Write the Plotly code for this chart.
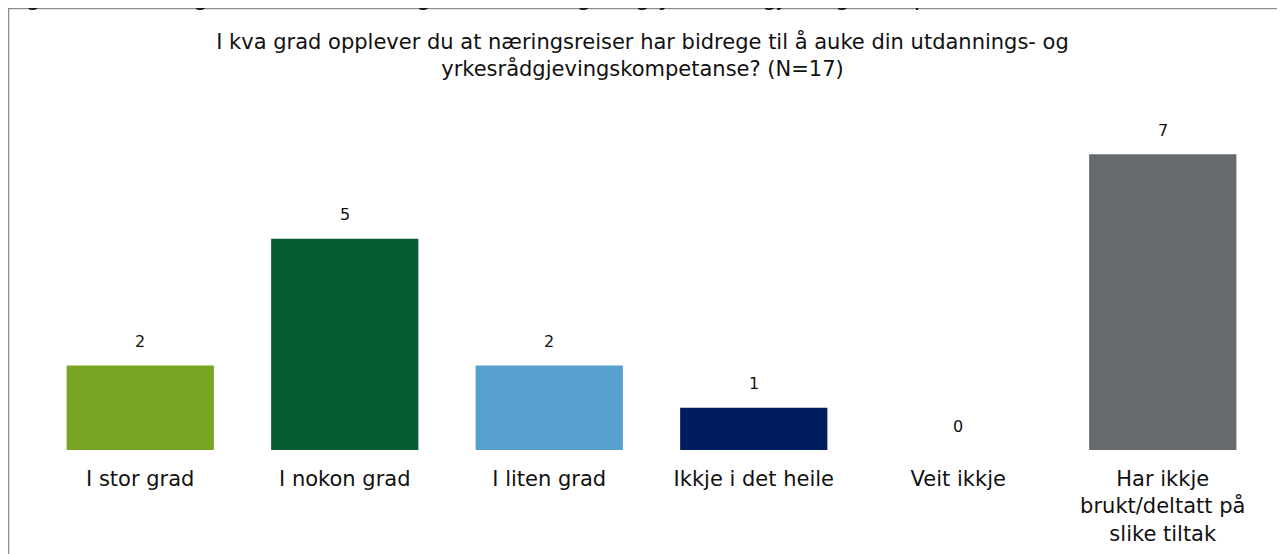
import plotly.graph_objects as go

# 데이터
categories = ['I stor grad', 'I nokon grad', 'I liten grad', 'Ikkje i det heile',
              'Veit ikkje', 'Har ikkje<br>brukt/deltatt på<br>slike tiltak']
values = [2, 5, 2, 1, 0, 7]
bar_colors = ['#78A622', '#055C33', '#56A0CD', '#001E5F', '#FFFFFF', '#676A6D']

FONT = 'DejaVu Sans'
OFF = 8  # 페이지 body 여백
W, H = 1285, 554
ML, MR, MT, MB = 30, 27.75, 104, 112
PW, PH = W - ML - MR, H - MT - MB


# 참조 이미지 픽셀 -> paper 좌표
def px_x(p):
    return (p - OFF - ML) / PW


def px_y(p):
    return (H - MB - (p - OFF)) / PH


fig = go.Figure(go.Bar(
    x=categories,
    y=values,
    marker=dict(color=bar_colors, line=dict(width=0)),
    hoverinfo='skip'
))

# 값 라벨
for c, v in zip(categories, values):
    fig.add_annotation(x=c, y=v, text=str(v), showarrow=False,
                       yshift=24, font=dict(family=FONT, size=16, color='#111111'))

# 위쪽에 잘린 캡션
fig.add_annotation(
    text='Figur 11: Næringsreiser som bidrag til utdannings- og yrkesrådgjevingskompetanse',
    xref='paper', yref='paper', x=px_x(5), y=px_y(-3),
    xanchor='left', yanchor='middle', showarrow=False,
    font=dict(family=FONT, size=24, color='#111111')
)

# 테두리
fig.add_shape(type='rect', xref='paper', yref='paper',
              x0=px_x(8.5), x1=px_x(1300), y0=px_y(600), y1=px_y(8.5),
              line=dict(color='#8c8c8c', width=1.5), fillcolor='rgba(0,0,0,0)')

fig.update_layout(
    width=W, height=H,
    margin=dict(l=ML, r=MR, t=MT, b=MB, autoexpand=False),
    paper_bgcolor='white', plot_bgcolor='white',
    bargap=0.28,
    showlegend=False,
    font=dict(family=FONT, color='#111111'),
    title=dict(
        text='I kva grad opplever du at næringsreiser har bidrege til å auke din utdannings- og<br>yrkesrådgjevingskompetanse? (N=17)',
        x=(642.5 - OFF) / W, xanchor='center', xref='container',
        y=1 - 41 / H, yanchor='middle', yref='container',
        font=dict(family=FONT, size=21, color='#111111')
    ),
    xaxis=dict(showline=False, showgrid=False, zeroline=False, ticks='',
               automargin=False, ticklabelstandoff=14,
               tickfont=dict(family=FONT, size=21, color='#111111')),
    yaxis=dict(range=[0, 8], visible=False, showgrid=False, zeroline=False,
               automargin=False)
)

fig.write_html('out.html')
